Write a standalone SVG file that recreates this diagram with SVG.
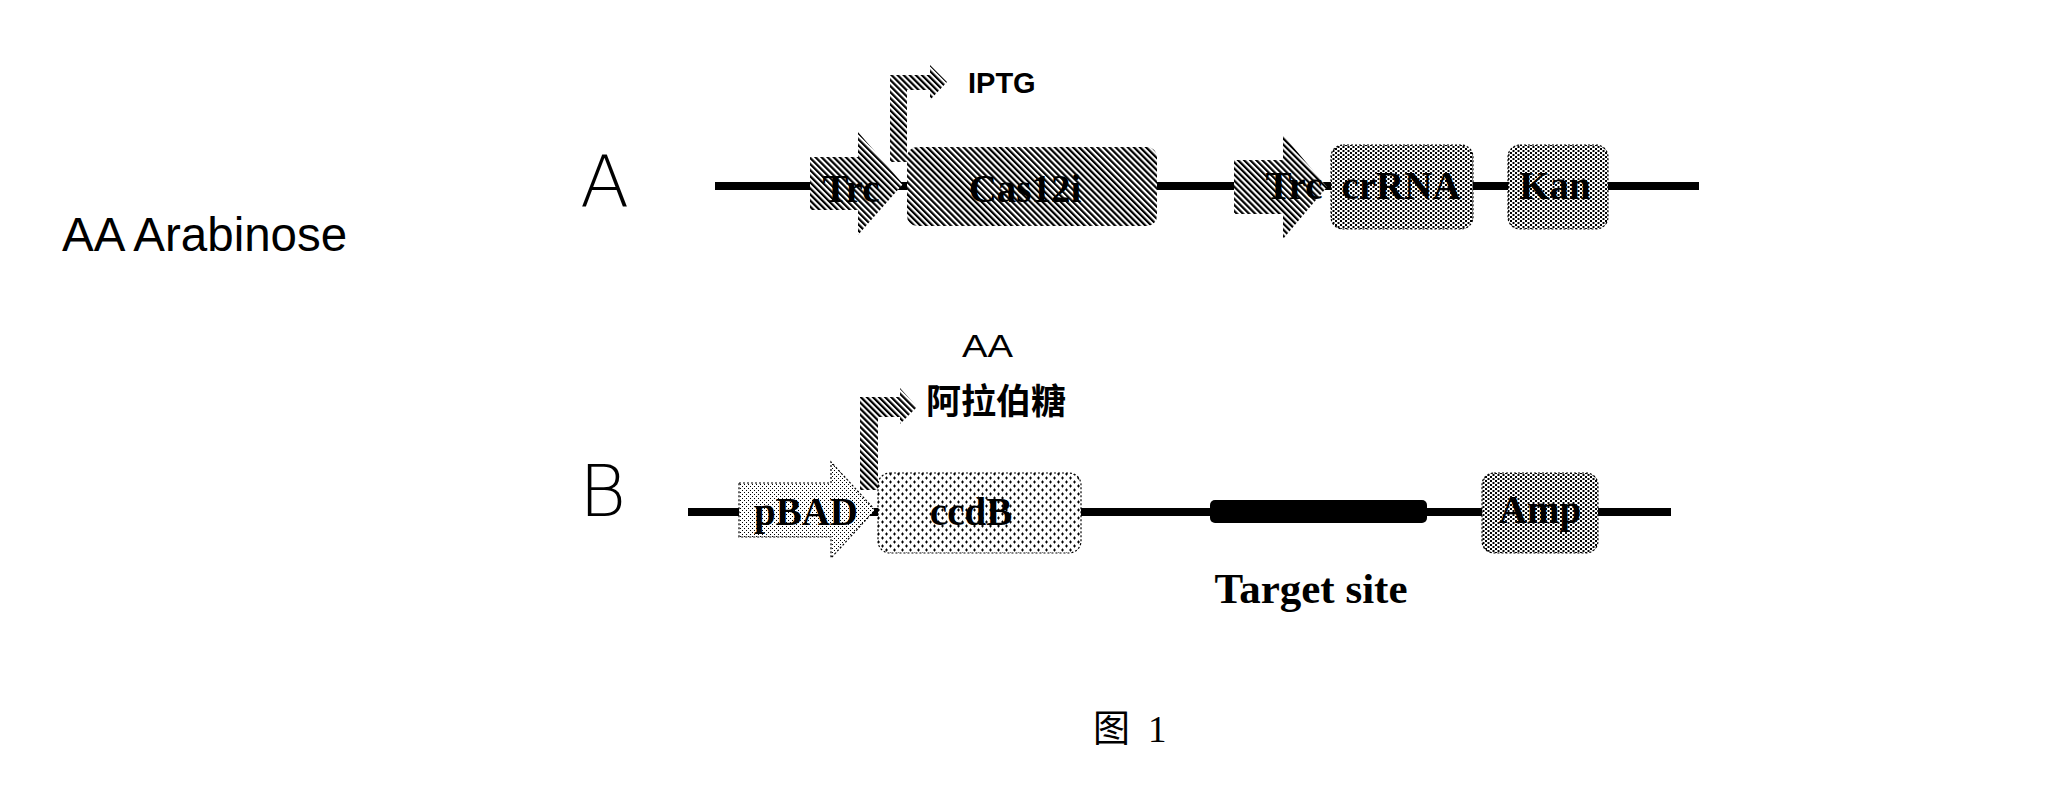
<svg xmlns="http://www.w3.org/2000/svg" width="2061" height="786" viewBox="0 0 2061 786">
<defs>
<pattern id="hatch" patternUnits="userSpaceOnUse" width="4.3" height="4.3" patternTransform="rotate(-45)">
<rect x="0" y="0" width="4.3" height="4.3" fill="#fff"/>
<rect x="0" y="0" width="2.2" height="4.3" fill="#000"/>
</pattern>
<pattern id="dots" patternUnits="userSpaceOnUse" width="5" height="4">
<rect x="0" y="0" width="5" height="4" fill="#fff"/>
<rect x="0" y="0" width="2" height="2" fill="#000"/>
<rect x="2.5" y="2" width="2" height="2" fill="#000"/>
</pattern>
<pattern id="plus" patternUnits="userSpaceOnUse" width="8" height="8">
<rect x="0" y="0" width="8" height="8" fill="#fff"/>
<path d="M1,2h3M2.5,0.5v3M5,6h3M6.5,4.5v3" stroke="#000" stroke-width="1"/>
</pattern>
<pattern id="light" patternUnits="userSpaceOnUse" width="4" height="4">
<rect x="0" y="0" width="4" height="4" fill="#fff"/>
<rect x="0" y="0" width="1" height="1" fill="#000"/>
<rect x="2" y="2" width="1" height="1" fill="#000"/>
</pattern>
</defs>
<style>
.bb{stroke:#000;stroke-width:8;fill:none}
.lbl{font-family:"Liberation Serif","Times New Roman",serif;font-weight:bold;font-size:39px;fill:#000;text-anchor:middle}
.big{font-family:"DejaVu Sans","Liberation Sans",sans-serif;font-weight:200;font-size:72px;fill:#000}
.sans{font-family:"Liberation Sans",Arial,sans-serif;fill:#000}
.box{stroke:#000;stroke-width:1.2;stroke-dasharray:2 2}
</style>
<rect width="2061" height="786" fill="#fff"/>

<g id="connectors">
<line class="bb" x1="715" y1="186" x2="1699" y2="186"/>
<line class="bb" x1="688" y1="512" x2="1671" y2="512"/>
</g>

<g id="legend"><text class="sans" x="62" y="251" font-size="47.5">AA Arabinose</text></g>
<g id="label-A"><text class="big" x="580" y="206">A</text></g>
<g id="label-B"><text class="big" x="579" y="516">B</text></g>

<g id="trc1">
<polygon points="810,157 858,157 858,132 903,184 858,235 858,210 810,210" fill="url(#hatch)"/>
<text class="lbl" x="851" y="202">Trc</text>
</g>
<g id="iptg-promoter">
<polygon points="890,162 890,75 930,75 930,65 947,82 930,100 930,90 907,90 907,162" fill="url(#hatch)"/>
<text class="sans" x="968" y="93" font-size="29" font-weight="bold">IPTG</text>
</g>
<g id="cas12i">
<rect x="907" y="147" width="250" height="79" rx="10" fill="url(#hatch)"/>
<text class="lbl" x="1025" y="202">Cas12i</text>
</g>
<g id="trc2">
<polygon points="1234,160 1283,160 1283,135 1327,187 1283,239 1283,214 1234,214" fill="url(#hatch)"/>
<text class="lbl" x="1294" y="199">Trc</text>
</g>
<g id="crrna">
<rect class="box" x="1331" y="145" width="142" height="84" rx="12" fill="url(#dots)"/>
<text class="lbl" x="1401" y="199">crRNA</text>
</g>
<g id="kan">
<rect class="box" x="1508" y="145" width="100" height="84" rx="12" fill="url(#dots)"/>
<text class="lbl" x="1555" y="199">Kan</text>
</g>

<g id="pbad">
<polygon class="box" points="739,483 831,483 831,462 875,510 831,558 831,537 739,537" fill="url(#light)"/>
<text class="lbl" x="806" y="525">pBAD</text>
</g>
<g id="ara-promoter">
<polygon points="860,490 860,397 900,397 900,388 917,407 900,424 900,417 878,417 878,490" fill="url(#hatch)"/>
<text class="sans" x="962" y="357" font-size="31" textLength="51" lengthAdjust="spacingAndGlyphs">AA</text>
<text x="926" y="414" font-family="'Noto Sans CJK SC','Noto Sans CJK JP',sans-serif" font-size="35" font-weight="bold" fill="#000">阿拉伯糖</text>
</g>
<g id="ccdb">
<rect class="box" x="878" y="473" width="203" height="80" rx="12" fill="url(#plus)"/>
<text class="lbl" x="971" y="525">ccdB</text>
</g>
<g id="target-site">
<rect x="1210" y="500" width="217" height="23" rx="5" fill="#000"/>
<text class="lbl" x="1311" y="603" style="font-size:43px">Target site</text>
</g>
<g id="amp">
<rect class="box" x="1482" y="473" width="116" height="80" rx="12" fill="url(#dots)"/>
<text class="lbl" x="1540" y="523">Amp</text>
</g>

<g id="caption">
<text y="742" font-family="'Liberation Serif','Noto Sans CJK SC',serif" font-size="37" fill="#000"><tspan x="1093">图</tspan><tspan x="1148">1</tspan></text>
</g>
</svg>
